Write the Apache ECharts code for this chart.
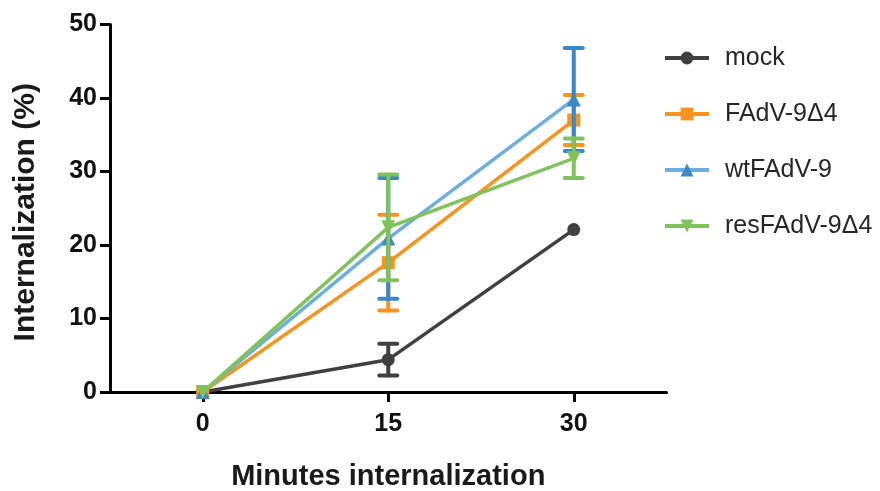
<!DOCTYPE html>
<html>
<head>
<meta charset="utf-8">
<script src="https://cdn.jsdelivr.net/npm/echarts@6/dist/echarts.min.js"></script>
<style>
  html, body { margin: 0; padding: 0; background: #fff; }
  #chart { width: 880px; height: 491px; }
</style>
</head>
<body>
<div id="chart"></div>
<script>
// Data
const minutes = [0, 15, 30];
const xTicks = [0, 15, 30];
const seriesNames = ['mock', 'FAdV-9\u03944', 'wtFAdV-9', 'resFAdV-9\u03944'];

const mockMean = [0, 4.4, 22.1];
const mockErr = [0, 2.15, 0];
const dMean = [0, 17.6, 37.0];
const dErr = [0, 6.5, 3.4];
const wtMean = [0, 20.9, 39.8];
const wtErr = [0, 8.2, 7.0];
const resMean = [0, 22.4, 31.8];
const resErr = [0, 7.2, 2.7];

const lineColors = ['#404040', '#F7931E', '#6DAEE2', '#80C35A'];
const markColors = ['#404040', '#F7931E', '#3A87C9', '#80C35A'];
const symbols = ['circle', 'rect', 'triangle', 'triangle'];
const rotates = [0, 0, 0, 180];
const sizes = [13, 13, 14, 14];

const means = [mockMean, dMean, wtMean, resMean];
const errs = [mockErr, dErr, wtErr, resErr];

const font = '"Liberation Sans", Arial, sans-serif';

const chart = echarts.init(document.getElementById('chart'));

function errorBars(idx) {
    const data = [];
    minutes.forEach((m, i) => {
        if (errs[idx][i] > 0) {
            data.push([m, means[idx][i] - errs[idx][i], means[idx][i] + errs[idx][i]]);
        }
    });
    return {
        type: 'custom',
        name: seriesNames[idx] + ' err',
        z: 2 + idx,
        silent: true,
        data: data,
        encode: { x: 0, y: [1, 2] },
        renderItem: function (params, api) {
            const lo = api.coord([api.value(0), api.value(1)]);
            const hi = api.coord([api.value(0), api.value(2)]);
            const half = 9;
            const style = { stroke: markColors[idx], lineWidth: 4, lineCap: 'round' };
            return {
                type: 'group',
                children: [
                    { type: 'line', shape: { x1: lo[0], y1: lo[1], x2: hi[0], y2: hi[1] }, style: style },
                    { type: 'line', shape: { x1: lo[0] - half, y1: lo[1], x2: lo[0] + half, y2: lo[1] }, style: style },
                    { type: 'line', shape: { x1: hi[0] - half, y1: hi[1], x2: hi[0] + half, y2: hi[1] }, style: style }
                ]
            };
        }
    };
}

function lineSeries(idx) {
    return {
        type: 'line',
        name: seriesNames[idx],
        z: 2 + idx,
        data: minutes.map((m, i) => [m, means[idx][i]]),
        symbol: symbols[idx],
        symbolSize: sizes[idx],
        symbolRotate: rotates[idx],
        showAllSymbol: true,
        lineStyle: { color: lineColors[idx], width: 3.5 },
        itemStyle: { color: markColors[idx], borderWidth: 0 },
        emphasis: { disabled: true }
    };
}

const series = [];
for (let i = 0; i < 4; i++) {
    series.push(errorBars(i));
    series.push(lineSeries(i));
}

chart.setOption({
    animation: false,
    grid: { left: 110, top: 24.5, right: 213.5, bottom: 99, outerBoundsMode: 'none', containLabel: false },
    legend: {
        data: seriesNames.map((n, i) => ({
            name: n,
            itemStyle: { color: markColors[i] },
            lineStyle: { color: lineColors[i], width: 4 }
        })),
        orient: 'vertical',
        left: 663,
        top: 45,
        padding: 0,
        itemWidth: 44,
        itemHeight: 16,
        itemGap: 30,
        selectedMode: false,
        textStyle: { fontFamily: font, fontSize: 25, color: '#262626', lineHeight: 26, padding: [0, 0, 0, 11] }
    },
    xAxis: {
        type: 'value',
        min: -7.5,
        max: 37.5,
        name: 'Minutes internalization',
        nameLocation: 'middle',
        nameGap: 70,
        nameTextStyle: { fontFamily: font, fontSize: 29, fontWeight: 'bold', color: '#1a1a1a' },
        axisLine: { show: true, onZero: false, lineStyle: { color: '#000', width: 3 } },
        axisTick: { show: true, length: 10, lineStyle: { color: '#000', width: 3 }, customValues: xTicks },
        axisLabel: { fontFamily: font, fontSize: 25, fontWeight: 'bold', color: '#111', margin: 20, customValues: xTicks },
        splitLine: { show: false }
    },
    yAxis: {
        type: 'value',
        min: 0,
        max: 50,
        interval: 10,
        name: 'Internalization (%)',
        nameLocation: 'middle',
        nameGap: 69,
        nameTextStyle: { fontFamily: font, fontSize: 30, fontWeight: 'bold', color: '#1a1a1a', padding: [0, 8, 0, 0] },
        axisLine: { show: true, onZero: false, lineStyle: { color: '#000', width: 3 } },
        axisTick: { show: true, length: 10, lineStyle: { color: '#000', width: 3 } },
        axisLabel: { fontFamily: font, fontSize: 25, fontWeight: 'bold', color: '#111', margin: 13 },
        splitLine: { show: false }
    },
    series: series
});
</script>
</body>
</html>
